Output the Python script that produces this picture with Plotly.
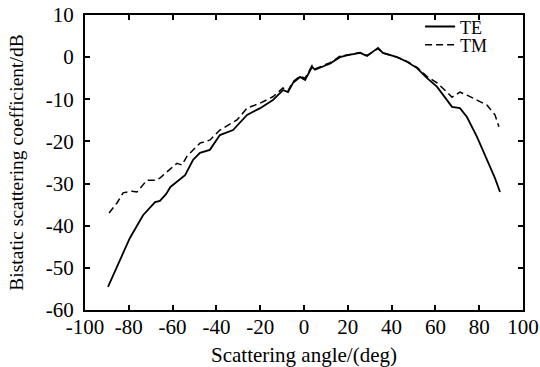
import plotly.graph_objects as go

te_angle = [-89.5, -87, -84, -79.5, -73.5, -68, -65.8, -63, -61, -58, -54.3, -50.7,
            -47.5, -43, -38.4, -32.4, -26, -20, -14.2, -9.6, -7.3, -5, -1.8, 0.5,
            3.7, 5, 8.7, 12, 16.4, 20, 25.6, 28.8, 33.8, 36, 42.5, 47, 51.6, 56.2,
            60.7, 64.4, 67.6, 71.2, 74.4, 79, 83.6, 87.2, 89.5]
te_db = [-54.5, -51.5, -48.1, -42.9, -37.5, -34.4, -34.1, -32.5, -30.8, -29.6, -28, -24.4,
         -22.7, -22, -18.5, -17.3, -13.7, -12.1, -10.2, -7.8, -8.3, -6.1, -4.7, -5.4,
         -2.3, -3, -2.3, -1.5, 0, 0.5, 1, 0.3, 2.2, 1, 0, -1.1, -2.6, -5,
         -7, -9.5, -11.8, -12.1, -14.2, -18.9, -24.4, -28.7, -32]

tm_angle = [-89, -85.4, -82.6, -78.5, -76.3, -71.7, -68, -65.8, -61, -58, -55.7, -53.4,
            -47.5, -43, -38.4, -30.6, -26, -20, -14.2, -9.6, -7.3, -5, -1.8, 0.5,
            3.7, 5, 8.7, 12, 16.4, 20, 25.6, 28.8, 33.8, 36, 42.5, 47, 51.6, 56.2,
            60.7, 65.3, 67.6, 71.2, 74.4, 79, 83.6, 87.2, 89]
tm_db = [-37, -34.6, -32.2, -31.8, -32, -29.2, -29.2, -28.7, -26.5, -25.2, -25.6, -23.5,
         -20.4, -19.7, -17.3, -14.9, -12.1, -10.9, -9.4, -7.3, -8, -5.8, -4.5, -5,
         -2, -2.8, -2, -1.3, 0.2, 0.6, 1.1, 0.4, 2.0, 1, 0, -1, -2.4, -4.6,
         -6.1, -8.3, -9.5, -8.3, -9, -10.2, -11.4, -13.7, -16.5]

x_ticks = [-100, -80, -60, -40, -20, 0, 20, 40, 60, 80, 100]
y_ticks = [-60, -50, -40, -30, -20, -10, 0, 10]

FONT = "Liberation Serif"

fig = go.Figure()
fig.add_trace(go.Scatter(x=te_angle, y=te_db, mode="lines", name="TE", legend="legend",
                         line=dict(color="black", width=1.8)))
fig.add_trace(go.Scatter(x=tm_angle, y=tm_db, mode="lines", name="TM", legend="legend2",
                         line=dict(color="black", width=1.5, dash="7px,4px")))

axis_common = dict(showgrid=False, zeroline=False, showline=True, linecolor="black",
                   linewidth=2, mirror="ticks", ticks="inside", ticklen=5,
                   tickwidth=1.5, tickcolor="black", automargin=False,
                   tickfont=dict(family=FONT, size=21, color="black"))

fig.update_xaxes(range=[-100, 100], tickvals=x_ticks,
                 ticktext=[str(v) for v in x_ticks], ticklabelstandoff=-3,
                 title=dict(text="Scattering angle/(deg)",
                            font=dict(family=FONT, size=21, color="black"), standoff=9),
                 **axis_common)
fig.update_yaxes(range=[-60, 10], tickvals=y_ticks,
                 ticktext=[str(v) for v in y_ticks], ticklabelstandoff=5,
                 title=dict(text="Bistatic scattering coefficient/dB",
                            font=dict(family=FONT, size=19.5, color="black"), standoff=17),
                 **axis_common)

leg_common = dict(xanchor="left", yanchor="middle", bgcolor="rgba(0,0,0,0)",
                  borderwidth=0, font=dict(family=FONT, size=18, color="black"),
                  itemwidth=30)
fig.update_layout(
    template="none",
    width=540, height=367,
    margin=dict(l=85, r=17, t=15, b=57, autoexpand=False),
    plot_bgcolor="white", paper_bgcolor="white",
    showlegend=True,
    legend=dict(x=0.765, y=0.96, **leg_common),
    legend2=dict(x=0.765, y=0.898, **leg_common),
)

fig.write_html("out.html")
